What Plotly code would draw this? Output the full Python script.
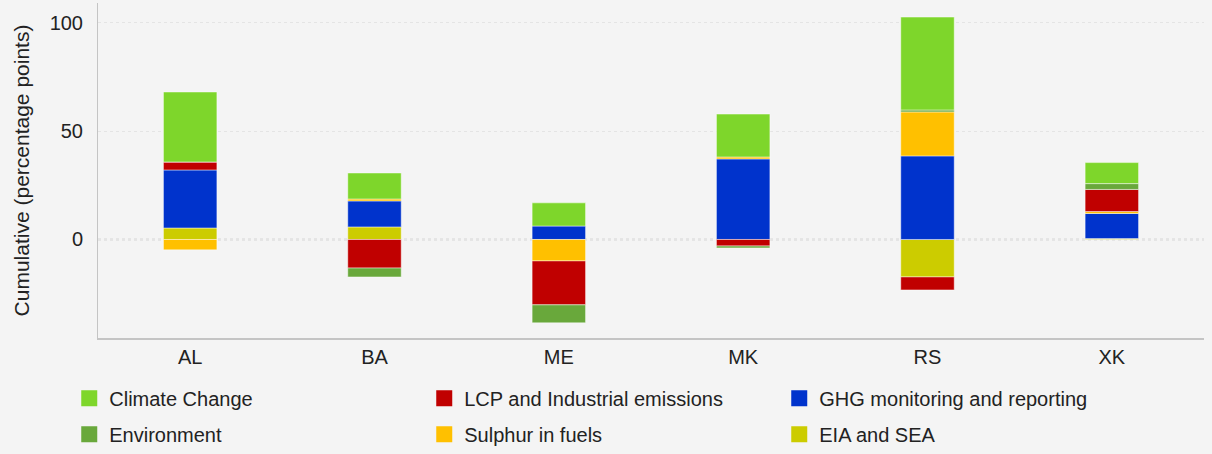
import plotly.graph_objects as go

# --- data ---
countries = ["AL", "BA", "ME", "MK", "RS", "XK"]

climate_change = [32.3, 12.0, 10.7, 19.8, 42.9, 9.7]
lcp_industrial = [3.7, -13.2, -20.3, -3.0, -6.0, 10.2]
ghg_monitoring = [26.8, 12.0, 6.2, 37.2, 38.6, 11.6]
environment = [0.0, -4.1, -8.3, -0.9, 0.9, 2.7]
sulphur_fuels = [-4.8, 0.9, -9.9, 0.9, 20.3, 0.9]
eia_sea = [5.3, 5.8, 0.0, 0.0, -17.3, 0.4]

y_ticks = [0, 50, 100]

COLORS = {
    "Climate Change": "#7ed62b",
    "LCP and Industrial emissions": "#c00000",
    "GHG monitoring and reporting": "#0033cc",
    "Environment": "#69a83b",
    "Sulphur in fuels": "#ffc000",
    "EIA and SEA": "#cccc00",
}

# stacking order, bottom -> top
stack = [
    ("EIA and SEA", eia_sea),
    ("GHG monitoring and reporting", ghg_monitoring),
    ("Sulphur in fuels", sulphur_fuels),
    ("LCP and Industrial emissions", lcp_industrial),
    ("Environment", environment),
    ("Climate Change", climate_change),
]

# legend rows as in the original
legend_rows = [
    ("legend", ["Climate Change", "LCP and Industrial emissions", "GHG monitoring and reporting"]),
    ("legend2", ["Environment", "Sulphur in fuels", "EIA and SEA"]),
]

FONT = "Liberation Sans, Arial, sans-serif"

fig = go.Figure()
for name, vals in stack:
    fig.add_trace(
        go.Bar(
            x=countries,
            y=vals,
            name=name,
            marker=dict(color=COLORS[name], line=dict(width=1, color="rgba(255,255,255,0.45)")),
            showlegend=False,
        )
    )

# legend-only entries (square swatches, bigger than the bar default)
for leg, names in legend_rows:
    for rank, name in enumerate(names):
        fig.add_trace(
            go.Scatter(
                x=[None],
                y=[None],
                mode="markers",
                name=name,
                marker=dict(symbol="square", size=20, color=COLORS[name]),
                legend=leg,
                legendrank=rank + 1,
                hoverinfo="skip",
            )
        )

legend_common = dict(
    orientation="h",
    xanchor="left",
    yanchor="middle",
    entrywidth=310,
    itemsizing="trace",
    font=dict(size=20, color="#222222"),
    bgcolor="rgba(0,0,0,0)",
)

fig.update_layout(
    barmode="relative",
    bargap=0.71,
    width=1212,
    height=454,
    paper_bgcolor="#f4f4f4",
    plot_bgcolor="#f4f4f4",
    margin=dict(l=98, r=8, t=3, b=116, autoexpand=False),
    font=dict(family=FONT, size=19, color="#222222"),
    xaxis=dict(
        showline=True,
        linecolor="#c4c4c4",
        linewidth=2,
        ticks="",
        tickfont=dict(size=20, color="#222222"),
    ),
    yaxis=dict(
        range=[-45.5, 109.2],
        tickvals=y_ticks,
        showline=True,
        linecolor="#c4c4c4",
        linewidth=1,
        zeroline=False,
        showgrid=True,
        gridcolor="#e4e4e4",
        griddash="dot",
        ticks="",
        ticklabelstandoff=10,
        tickfont=dict(size=20, color="#222222"),
        title=dict(text="Cumulative (percentage points)", font=dict(size=21), standoff=14),
    ),
    legend=dict(x=-0.026, y=-0.18, **legend_common),
    legend2=dict(x=-0.026, y=-0.287, **legend_common),
)

# dotted zero line
fig.add_hline(y=0, line=dict(color="#b8b8b8", width=1.5, dash="dot"), layer="below")

fig.write_html(
    "out.html",
    config={"displayModeBar": False},
    post_script="document.body.style.margin='0';document.body.style.background='#f4f4f4';",
)
